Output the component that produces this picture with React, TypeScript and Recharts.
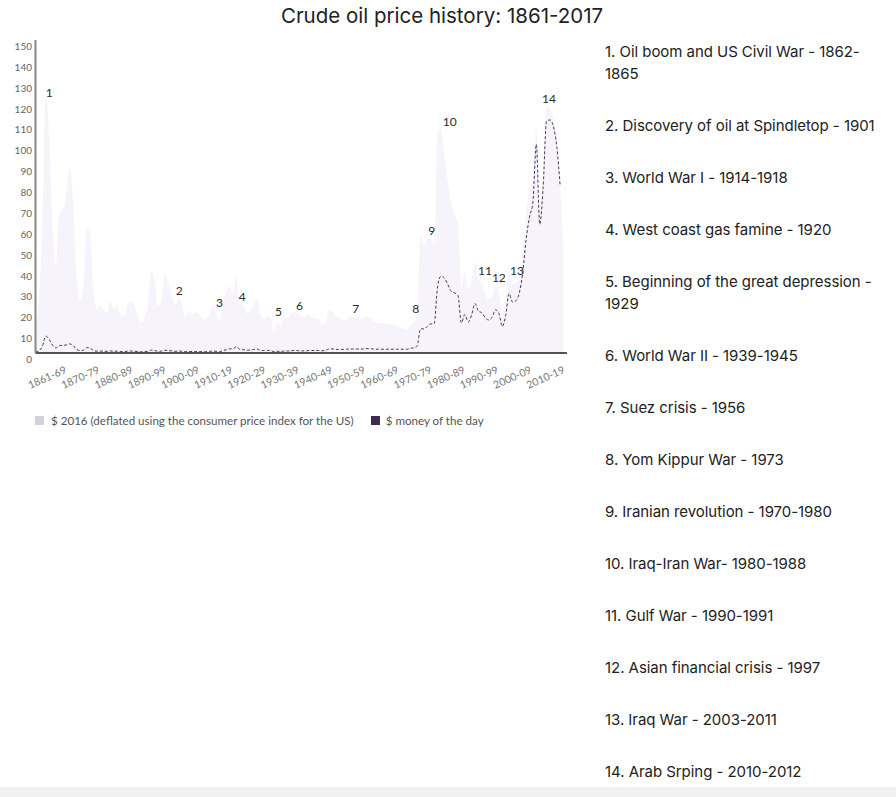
import React from 'react';
import { ComposedChart, Area, Line, XAxis, YAxis, ReferenceDot } from 'recharts';

const title = 'Crude oil price history: 1861-2017';

const years: number[] = Array.from({ length: 157 }, (_, i) => 1861 + i);

// $ 2016 (deflated using the consumer price index for the US), 1861 ... 2017
const realPrices: (number | null)[] = [
  13.1, 25.6, 61.4, 124.9, 104.9, 61.9, 42.6, 66.4, 68.6, 75.4,
  88.5, 74.3, 38.0, 25.6, 30.5, 59.8, 58.0, 29.4, 21.2, 23.1,
  20.9, 18.9, 24.7, 21.3, 22.7, 18.3, 17.3, 22.7, 24.7, 22.9,
  17.6, 14.7, 17.0, 23.4, 38.9, 33.8, 22.6, 26.1, 37.0, 34.1,
  27.5, 22.9, 26.2, 23.6, 17.1, 20.1, 18.9, 19.5, 19.1, 16.1,
  16.0, 18.6, 23.3, 19.6, 15.3, 24.5, 29.6, 32.2, 28.3, 37.2,
  23.6, 23.4, 19.0, 20.4, 23.4, 25.9, 18.2, 16.7, 17.9, 17.3,
  10.4, 15.5, 12.5, 17.9, 16.9, 18.8, 19.7, 19.3, 17.6, 17.5,
  18.6, 17.5, 16.6, 16.5, 14.0, 13.8, 20.5, 19.9, 18.0, 17.1,
  15.9, 15.5, 17.4, 17.3, 17.4, 17.1, 16.3, 17.4, 17.2, 15.5,
  14.5, 14.3, 14.2, 14.0, 13.8, 13.4, 13.0, 12.5, 11.8, 11.2,
  13.3, 14.3, 17.8, 56.6, 51.6, 54.2, 55.3, 51.8, 104.9, 107.7,
  95.2, 82.3, 71.5, 66.7, 61.7, 31.7, 39.1, 30.4, 35.4, 43.7,
  35.4, 33.2, 28.3, 25.7, 26.9, 31.7, 28.7, 18.8, 26.0, 39.9,
  33.2, 33.5, 37.7, 48.8, 67.2, 77.8, 84.1, 108.8, 69.2, 87.8,
  119.1, 117.1, 112.3, 100.6, 80.0, 48.0, null,
];

// $ money of the day, 1861 ... 2017
const nominalPrices: (number | null)[] = [
  0.49, 1.05, 3.15, 8.06, 6.59, 3.74, 2.41, 3.63, 3.64, 3.86,
  4.34, 3.64, 1.83, 1.17, 1.35, 2.56, 2.42, 1.19, 0.86, 0.95,
  0.86, 0.78, 1.0, 0.84, 0.88, 0.71, 0.67, 0.88, 0.94, 0.87,
  0.67, 0.56, 0.64, 0.84, 1.36, 1.18, 0.79, 0.91, 1.29, 1.19,
  0.96, 0.8, 0.94, 0.86, 0.62, 0.73, 0.72, 0.72, 0.7, 0.61,
  0.61, 0.74, 0.95, 0.81, 0.64, 1.1, 1.56, 1.98, 2.01, 3.07,
  1.73, 1.61, 1.34, 1.43, 1.68, 1.88, 1.3, 1.17, 1.27, 1.19,
  0.65, 0.87, 0.67, 1.0, 0.97, 1.09, 1.18, 1.13, 1.02, 1.02,
  1.14, 1.19, 1.2, 1.21, 1.05, 1.12, 1.9, 1.99, 1.78, 1.71,
  1.71, 1.71, 1.93, 1.93, 1.93, 1.93, 1.9, 2.08, 2.08, 1.9,
  1.8, 1.8, 1.8, 1.8, 1.8, 1.8, 1.8, 1.8, 1.8, 1.8,
  2.24, 2.48, 3.29, 11.58, 11.53, 12.8, 13.92, 14.02, 31.61, 36.83,
  35.93, 32.97, 29.55, 28.78, 27.56, 14.43, 18.44, 14.92, 18.23, 23.73,
  20.0, 19.32, 16.97, 15.82, 17.02, 20.67, 19.09, 12.72, 17.97, 28.5,
  24.44, 25.02, 28.83, 38.27, 54.52, 65.14, 72.39, 100.0, 61.67, 79.5,
  111.26, 111.67, 108.66, 98.95, 80.0, null, null,
];

const decadeLabels = [
  '1861-69', '1870-79', '1880-89', '1890-99', '1900-09', '1910-19', '1920-29', '1930-39',
  '1940-49', '1950-59', '1960-69', '1970-79', '1980-89', '1990-99', '2000-09', '2010-19',
];

const yTicks = [0, 10, 20, 30, 40, 50, 60, 70, 80, 90, 100, 110, 120, 130, 140, 150];

// chart annotations: number, year, price level where the number sits
const annotationLabels = ['1', '2', '3', '4', '5', '6', '7', '8', '9', '10', '11', '12', '13', '14'];
const annotationYears = [1865.0, 1903.2, 1915.0, 1921.7, 1932.3, 1938.5, 1955.0, 1972.6, 1977.3, 1982.6, 1992.9, 1997.0, 2002.3, 2011.7];
const annotationValues = [124.7, 29.6, 24.0, 27.2, 19.8, 22.7, 21.1, 21.1, 58.4, 110.6, 39.3, 36.0, 39.3, 122.0];

const eventTexts = [
  '1. Oil boom and US Civil War - 1862-1865',
  '2. Discovery of oil at Spindletop - 1901',
  '3. World War I - 1914-1918',
  '4. West coast gas famine - 1920',
  '5. Beginning of the great depression - 1929',
  '6. World War II - 1939-1945',
  '7. Suez crisis - 1956',
  '8. Yom Kippur War - 1973',
  '9. Iranian revolution - 1970-1980',
  '10. Iraq-Iran War- 1980-1988',
  '11. Gulf War - 1990-1991',
  '12. Asian financial crisis - 1997',
  '13. Iraq War - 2003-2011',
  '14. Arab Srping - 2010-2012',
];

const seriesNames = ['$ 2016 (deflated using the consumer price index for the US)', '$ money of the day'];

const data = years.map((year, i) => ({ year, real: realPrices[i], nominal: nominalPrices[i] }));
const tickYears = decadeLabels.map((_, i) => 1861 + (i + 1) * 9.75);

const AREA_FILL = '#f6f4fa';
const LEGEND_LIGHT = '#d6d0de';
const LEGEND_DARK = '#3b2b4e';
const LINE_COLOR = '#473b58';

const XTick = (props: any) => {
  const { x, y, payload } = props;
  const idx = tickYears.findIndex((t) => Math.abs(t - payload.value) < 0.01);
  const bx = x - 1.5;
  const by = y + 19.5;
  return (
    <text
      x={bx}
      y={by}
      textAnchor="end"
      fill="#777"
      fontSize={10.5}
      fontFamily="Lato"
      transform={`rotate(-24, ${bx}, ${by})`}
    >
      {idx >= 0 ? decadeLabels[idx] : ''}
    </text>
  );
};

const YTick = (props: any) => {
  const { x, y, payload } = props;
  return (
    <text x={x} y={y + 10} textAnchor="end" fill="#666" fontSize={10} fontFamily="Lato">
      {payload.value}
    </text>
  );
};

export default function App() {
  return (
    <div style={{ position: 'relative', width: 896, height: 797, background: '#fff', overflow: 'hidden', fontFamily: 'Inter' }}>
      <style>{`body{margin:0;}`}</style>
      <div
        style={{
          position: 'absolute',
          left: 0,
          top: 2,
          width: 884,
          textAlign: 'center',
          fontSize: 20.5,
          lineHeight: '28px',
          color: '#222',
          fontFamily: 'Inter',
        }}
      >
        {title}
      </div>

      <div style={{ position: 'absolute', left: 0, top: 0 }}>
        <ComposedChart width={580} height={400} data={data} margin={{ top: 40, right: 13, left: 0, bottom: 7 }}>
          <XAxis
            dataKey="year"
            type="number"
            domain={[1861, 2017]}
            ticks={tickYears}
            interval={0}
            tick={XTick}
            tickLine={false}
            tickSize={0}
            tickMargin={0}
            height={40}
            axisLine={{ stroke: '#1a1a1a', strokeWidth: 1.5 }}
            allowDataOverflow
          />
          <YAxis
            type="number"
            domain={[0, 150]}
            ticks={yTicks}
            interval={0}
            tick={YTick}
            tickLine={false}
            tickSize={0}
            tickMargin={3.5}
            width={35.5}
            axisLine={{ stroke: '#888', strokeWidth: 2 }}
          />
          <Area
            type="monotone"
            dataKey="real"
            stroke="none"
            fill={AREA_FILL}
            fillOpacity={1}
            isAnimationActive={false}
            dot={false}
            activeDot={false}
          />
          <Line
            type="monotone"
            dataKey="nominal"
            stroke={LINE_COLOR}
            strokeWidth={1}
            strokeDasharray="3 2"
            dot={false}
            activeDot={false}
            isAnimationActive={false}
          />
          {annotationLabels.map((lab, i) => (
            <ReferenceDot
              key={lab}
              x={annotationYears[i]}
              y={annotationValues[i]}
              r={0}
              fill="none"
              stroke="none"
              label={{ value: lab, position: 'center', fill: '#2a2a2a', fontSize: 12, fontFamily: 'Lato' }}
            />
          ))}
        </ComposedChart>
      </div>

      <div
        style={{
          position: 'absolute',
          left: 31,
          top: 414,
          display: 'flex',
          alignItems: 'center',
          fontFamily: 'Lato',
          fontSize: 11.6,
          color: '#555',
          whiteSpace: 'nowrap',
        }}
      >
        <span style={{ display: 'inline-block', width: 9, height: 9, background: LEGEND_LIGHT, marginLeft: 4, marginRight: 7 }} />
        <span>{seriesNames[0]}</span>
        <span style={{ display: 'inline-block', width: 9, height: 9, background: LEGEND_DARK, marginLeft: 17, marginRight: 6 }} />
        <span>{seriesNames[1]}</span>
      </div>

      <div
        style={{
          position: 'absolute',
          left: 605,
          top: 41,
          width: 278,
          fontFamily: 'Inter',
          fontSize: 15,
          lineHeight: '22px',
          color: '#222',
          letterSpacing: -0.05,
        }}
      >
        {eventTexts.map((t) => (
          <div key={t} style={{ marginBottom: 30 }}>
            {t}
          </div>
        ))}
      </div>

      <div style={{ position: 'absolute', left: 0, top: 787, width: 896, height: 10, background: '#f1f1f1' }} />
    </div>
  );
}
